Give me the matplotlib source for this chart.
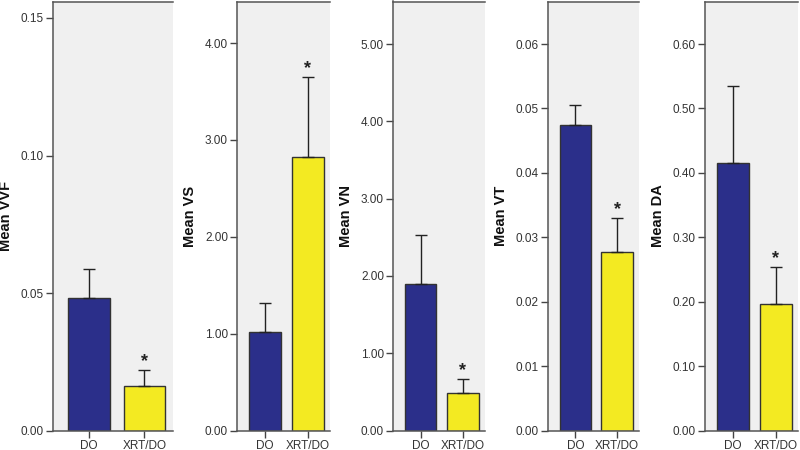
import matplotlib
matplotlib.use("Agg")
import matplotlib.pyplot as plt
from matplotlib.ticker import FormatStrFormatter

plt.rcParams['font.family'] = ['Liberation Sans', 'DejaVu Sans']

groups = ["DO", "XRT/DO"]

labels = ["Mean VVF", "Mean VS", "Mean VN", "Mean VT", "Mean DA"]
vvf_mean = [0.0481, 0.0163]
vvf_sem = [0.0107, 0.0058]
vs_mean = [1.02, 2.82]
vs_sem = [0.30, 0.83]
vn_mean = [1.89, 0.48]
vn_sem = [0.64, 0.18]
vt_mean = [0.0474, 0.0277]
vt_sem = [0.0031, 0.0053]
da_mean = [0.415, 0.197]
da_sem = [0.120, 0.057]

means = [vvf_mean, vs_mean, vn_mean, vt_mean, da_mean]
sems = [vvf_sem, vs_sem, vn_sem, vt_sem, da_sem]
yticks = [
    [0.0, 0.05, 0.10, 0.15],
    [0, 1, 2, 3, 4],
    [0, 1, 2, 3, 4, 5],
    [0, 0.01, 0.02, 0.03, 0.04, 0.05, 0.06],
    [0, 0.1, 0.2, 0.3, 0.4, 0.5, 0.6],
]
ytops = [0.156, 4.43, 5.55, 0.0666, 0.666]

# panel left/right edges in pixels (800 px wide figure)
panel_px = [(53, 173), (237, 330), (393, 485), (548, 639), (705, 798)]

colors = ["#2b2f8a", "#f3ea22"]
W, H = 800, 450
fig = plt.figure(figsize=(8, 4.5), dpi=100)

for i in range(5):
    l, r = panel_px[i]
    ax = fig.add_axes([l / W, (H - 430.5) / H, (r - l) / W, 429 / H])
    ax.set_facecolor("#f0f0f0")
    x = range(len(groups))
    ax.bar(x, means[i], width=0.75, color=colors, edgecolor="#333333", linewidth=1.0, zorder=2)
    ax.errorbar(x, means[i], yerr=[[0, 0], sems[i]], fmt="none", ecolor="#222222",
                elinewidth=1.0, capsize=4.5, capthick=1.0, zorder=3)
    # significance marker on the XRT/DO bar
    ax.annotate("*", xy=(1, means[i][1] + sems[i][1]), xytext=(0, 0), textcoords="offset points",
                ha="center", va="bottom", fontsize=13, fontweight="bold", color="#222222")
    ax.set_xlim(-0.65, 1.52)
    ax.set_ylim(0, ytops[i])
    ax.set_yticks(yticks[i])
    ax.yaxis.set_major_formatter(FormatStrFormatter("%.2f"))
    ax.set_xticks(list(x))
    ax.set_xticklabels(groups)
    ax.tick_params(axis="both", direction="out", length=5, width=1.0, color="#444444",
                   labelsize=8.5, labelcolor="#333333", pad=1.5)
    ax.spines["right"].set_visible(False)
    for s in ["left", "top", "bottom"]:
        ax.spines[s].set_color("#555555")
        ax.spines[s].set_linewidth(1.1)
    ax.set_ylabel(labels[i], fontsize=10.5, fontweight="bold", color="#111111")
    ax.yaxis.set_label_coords(-40 / (r - l), 0.5)

fig.savefig("out.png", dpi=100)
